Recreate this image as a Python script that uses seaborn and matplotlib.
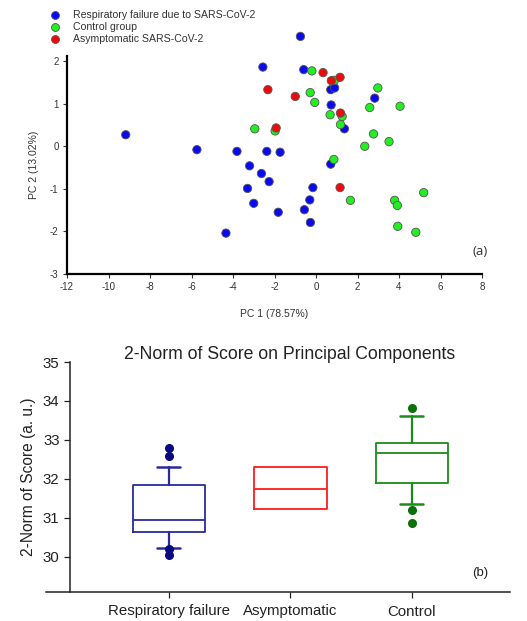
import matplotlib
matplotlib.use("Agg")
import matplotlib.pyplot as plt
import seaborn as sns
import pandas as pd

# ---------------- data: panel (a) PCA scores ----------------
resp_pc1 = [-0.75, -2.56, -0.59, 0.71, 0.90, 2.83, 0.73, 1.37, -9.17, -5.74, -3.81, -2.37, -1.73,
            -3.20, -2.63, -2.26, 0.71, -3.30, -0.15, -3.00, -0.30, -1.82, -0.56, -0.27, -4.34]
resp_pc2 = [2.58, 1.86, 1.80, 1.33, 1.37, 1.13, 0.97, 0.41, 0.27, -0.08, -0.12, -0.12, -0.14,
            -0.46, -0.64, -0.83, -0.42, -0.99, -0.97, -1.34, -1.26, -1.55, -1.49, -1.79, -2.04]
ctrl_pc1 = [-0.20, 0.89, -0.28, -0.06, 2.98, 2.59, 4.05, 0.68, 1.26, 1.18, -2.95, -1.97, 2.77,
            2.35, 3.52, 0.86, 1.66, 3.79, 3.92, 5.19, 3.94, 4.81]
ctrl_pc2 = [1.77, 1.55, 1.26, 1.03, 1.37, 0.91, 0.94, 0.74, 0.70, 0.51, 0.41, 0.36, 0.29,
            0.00, 0.11, -0.31, -1.27, -1.27, -1.39, -1.09, -1.88, -2.02]
asym_pc1 = [0.34, 1.16, 0.74, -2.32, -1.00, 1.18, -1.92, 1.16]
asym_pc2 = [1.73, 1.62, 1.54, 1.33, 1.17, 0.78, 0.43, -0.97]

group_labels = ["Respiratory failure due to SARS-CoV-2", "Control group", "Asymptomatic SARS-CoV-2"]
group_colors = ["#0a0af0", "#22ee22", "#ee0a0a"]

# ---------------- data: panel (b) box statistics ----------------
box_groups = ["Respiratory failure", "Asymptomatic", "Control"]
box_q1 = [30.62, 31.22, 31.89]
box_med = [30.94, 31.74, 32.66]
box_q3 = [31.84, 32.29, 32.91]
box_whislo = [30.21, 31.22, 31.34]
box_whishi = [32.31, 32.29, 33.60]
box_fliers = [[32.80, 32.59, 30.19, 30.03], [], [33.82, 31.20, 30.86]]
box_colors = ["#2a2aa0", "#ff1a1a", "#1a8c1a"]
flier_colors = ["#0a0a80", "#ff1a1a", "#0a700a"]

sns.set_style("white")
plt.rcParams["font.family"] = ["Liberation Sans", "DejaVu Sans"]
plt.rcParams["axes.unicode_minus"] = False

fig = plt.figure(figsize=(5.27, 6.21), dpi=100)

# ---------------- panel (a) ----------------
axa = fig.add_axes([67/527, 347/621, 415/527, (565-347)/621])
df = pd.DataFrame({
    "PC1": resp_pc1 + ctrl_pc1 + asym_pc1,
    "PC2": resp_pc2 + ctrl_pc2 + asym_pc2,
    "group": [group_labels[0]]*len(resp_pc1) + [group_labels[1]]*len(ctrl_pc1) + [group_labels[2]]*len(asym_pc1),
})
sns.scatterplot(data=df, x="PC1", y="PC2", hue="group", hue_order=group_labels,
                palette=group_colors, s=36, edgecolor="#555555", linewidth=0.6,
                clip_on=False, ax=axa, zorder=3)
axa.set_xlim(-12, 8)
axa.set_ylim(-3, 2.12)
axa.set_xticks(range(-12, 9, 2))
axa.set_yticks(range(-3, 3))
for s in ["top", "right"]:
    axa.spines[s].set_visible(False)
for s in ["left", "bottom"]:
    axa.spines[s].set_linewidth(1.6)
    axa.spines[s].set_color("black")
axa.tick_params(axis="both", direction="out", length=3, width=0.8, labelsize=7,
                colors="#333333", left=True, bottom=True, pad=3)
axa.set_xlabel("PC 1 (78.57%)", fontsize=7.5, color="#333333", labelpad=12)
axa.set_ylabel("PC 2 (13.02%)", fontsize=7.5, color="#333333", labelpad=8)
axa.text(8.3, -2.48, "(a)", fontsize=9.5, family="Open Sans", color="#333333",
         ha="right", va="center")
leg = axa.legend(loc="upper left", bbox_to_anchor=(40/527, 1 - 6/621),
                 bbox_transform=fig.transFigure, frameon=False, fontsize=7.6,
                 handletextpad=0.7, labelspacing=0.2, borderaxespad=0, markerscale=0.95)
for t in leg.get_texts():
    t.set_color("#333333")

# ---------------- panel (b) ----------------
axb = fig.add_axes([46/527, 29/621, 464/527, (259-29)/621])
stats = []
for i in range(3):
    stats.append(dict(med=box_med[i], q1=box_q1[i], q3=box_q3[i],
                      whislo=box_whislo[i], whishi=box_whishi[i],
                      fliers=box_fliers[i], label=box_groups[i]))
art = axb.bxp(stats, positions=[0, 1, 2], widths=0.6, capwidths=0.19,
              showfliers=True, patch_artist=False)
for i in range(3):
    c = box_colors[i]
    art["boxes"][i].set_color(c)
    art["boxes"][i].set_linewidth(1.3)
    art["medians"][i].set_color(c)
    art["medians"][i].set_linewidth(1.3)
    for w in art["whiskers"][2*i:2*i+2]:
        w.set_color(c); w.set_linewidth(1.6)
    for cp in art["caps"][2*i:2*i+2]:
        cp.set_color(c); cp.set_linewidth(1.8)
    fl = art["fliers"][i]
    fl.set_marker("o"); fl.set_markersize(5.5)
    fl.set_markerfacecolor(flier_colors[i]); fl.set_markeredgecolor(flier_colors[i])
# the asymptomatic box has no whiskers
for cp in art["caps"][2:4]:
    cp.set_visible(False)
for w in art["whiskers"][2:4]:
    w.set_visible(False)

axb.set_xlim(-1.012, 2.807)
axb.set_ylim(29.09, 35)
axb.set_yticks(range(30, 36))
axb.set_xticks([0, 1, 2])
axb.set_xticklabels(box_groups)
axb.spines["left"].set_position(("data", -0.815))
for s in ["top", "right"]:
    axb.spines[s].set_visible(False)
for s in ["left", "bottom"]:
    axb.spines[s].set_linewidth(1.1)
    axb.spines[s].set_color("#222222")
axb.tick_params(axis="both", direction="out", length=4, width=0.9, labelsize=10.8,
                colors="#222222", left=True, bottom=True)
axb.tick_params(axis="x", pad=5)
axb.set_ylabel("2-Norm of Score (a. u.)", fontsize=11.2, color="#222222", labelpad=5)
axb.set_title("2-Norm of Score on Principal Components", fontsize=12.7, color="#222222",
              x=(290-46)/464, pad=2)
axb.text(2.63, 29.58, "(b)", fontsize=9.5, color="#222222", ha="right", va="center")

fig.savefig("out.png", dpi=100)
